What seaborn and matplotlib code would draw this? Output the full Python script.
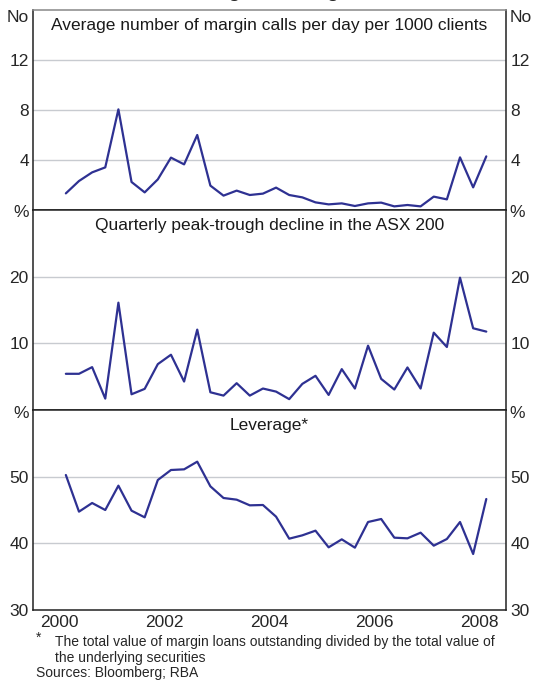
import numpy as np
import pandas as pd
import seaborn as sns
import matplotlib.pyplot as plt
from matplotlib.ticker import FixedLocator, FixedFormatter

# ── Data (quarterly, Q3 2000 to Q3 2008) ──────────────────────────────────
quarters = pd.period_range("2000Q3", "2008Q3", freq="Q")
# mid-quarter position as decimal year
xpos = [q.year + (q.quarter - 1) * 0.25 + 0.125 for q in quarters]

margin_calls = [1.33, 2.32, 3.01, 3.41, 8.05, 2.24, 1.41, 2.45, 4.19, 3.65, 6.0,
                1.95, 1.15, 1.55, 1.2, 1.31, 1.79, 1.2, 1.01, 0.61, 0.45, 0.53,
                0.32, 0.53, 0.59, 0.29, 0.4, 0.29, 1.07, 0.85, 4.21, 1.81, 4.29]

asx_decline = [5.43, 5.43, 6.43, 1.71, 16.1, 2.36, 3.17, 6.88, 8.29, 4.27, 12.06,
               2.66, 2.16, 4.02, 2.16, 3.22, 2.76, 1.63, 3.92, 5.13, 2.26, 6.13,
               3.22, 9.65, 4.67, 3.07, 6.38, 3.22, 11.6, 9.45, 19.85, 12.26, 11.76]

leverage = [50.25, 44.75, 46.05, 45.0, 48.65, 44.9, 43.9, 49.5, 51.0, 51.1, 52.25,
            48.55, 46.8, 46.55, 45.7, 45.75, 44.0, 40.7, 41.2, 41.9, 39.4, 40.6,
            39.35, 43.2, 43.65, 40.85, 40.75, 41.6, 39.65, 40.65, 43.2, 38.4, 46.65]

df = pd.DataFrame({"x": xpos, "calls": margin_calls, "asx": asx_decline, "lev": leverage})

panel_titles = ["Average number of margin calls per day per 1000 clients",
                "Quarterly peak-trough decline in the ASX 200",
                "Leverage*"]
panel_cols = ["calls", "asx", "lev"]
panel_ylim = [(0, 16), (0, 30), (30, 60)]
panel_ticks = [[4, 8, 12], [10, 20], [30, 40, 50]]
panel_units = ["No", "%", "%"]
unit_offset = [8, 3, 3]  # px below panel top

year_labels = ["2000", "2002", "2004", "2006", "2008"]

# ── Style ──────────────────────────────────────────────────────────────────
sns.set_style("white")
plt.rcParams["font.family"] = ["Liberation Sans", "DejaVu Sans"]
plt.rcParams["font.size"] = 12.5

LINE = "#2e3192"
GRID = "#c8cbd0"
FRAME = "#222222"
FS = 12.5

fig = plt.figure(figsize=(5.34, 6.81), dpi=100)
W, H = 534, 681
left, right = 33 / W, 506 / W
tops = [10, 210, 410]
panel_h = 200

for i in range(3):
    y0 = 1 - (tops[i] + panel_h) / H
    ax = fig.add_axes([left, y0, right - left, panel_h / H])
    sns.lineplot(data=df, x="x", y=panel_cols[i], ax=ax, color=LINE, linewidth=1.6)
    ax.set_xlim(2000, 2009)
    ax.set_ylim(*panel_ylim[i])
    ax.set_xlabel("")
    ax.set_ylabel("")

    for t in panel_ticks[i]:
        if t > panel_ylim[i][0]:
            ax.axhline(t, color=GRID, linewidth=1.0, zorder=0)

    ax.yaxis.set_major_locator(FixedLocator(panel_ticks[i]))
    ax.yaxis.set_major_formatter(FixedFormatter([str(t) for t in panel_ticks[i]]))
    ax.tick_params(axis="y", length=0, labelsize=FS, pad=3,
                   left=True, right=True, labelleft=True, labelright=True)

    # unit label just below the top of each panel, both sides
    for xx, ha in [(-0.008, "right"), (1.008, "left")]:
        ax.text(xx, 1 - unit_offset[i] / panel_h, panel_units[i], transform=ax.transAxes,
                ha=ha, va="center", fontsize=FS)

    for s in ["left", "right", "bottom"]:
        ax.spines[s].set_color(FRAME)
        ax.spines[s].set_linewidth(1.1)
    ax.spines["top"].set_color("#888888" if i == 0 else FRAME)
    ax.spines["top"].set_linewidth(1.1)

    ax.text(0.5, 0.958, panel_titles[i], transform=ax.transAxes,
            ha="center", va="top", fontsize=FS, color="#1a1a1a")

    if i < 2:
        ax.set_xticks([])
    else:
        ax.set_xticks(range(2001, 2009))
        ax.tick_params(axis="x", direction="in", length=6, width=1.0,
                       color="#333333", labelbottom=False)
        for j, lab in enumerate(year_labels):
            ax.text(2000.5 + 2 * j, -0.025, lab, transform=ax.get_xaxis_transform(),
                    ha="center", va="top", fontsize=FS)

# chart title, clipped by the top edge as in the original
fig.text(0.5, 1 + 3 / H, "Margin Lending", ha="center", va="baseline",
         fontsize=14, fontweight="bold")

FN = 10
fig.text(36 / W, 1 - 638 / H, "*", fontsize=FN, va="center")
fig.text(55 / W, 1 - 650 / H,
         "The total value of margin loans outstanding divided by the total value of\nthe underlying securities",
         fontsize=FN, va="center", linespacing=1.15)
fig.text(36 / W, 1 - 673 / H, "Sources: Bloomberg; RBA", fontsize=FN, va="center")

fig.savefig("out.png", dpi=100)
